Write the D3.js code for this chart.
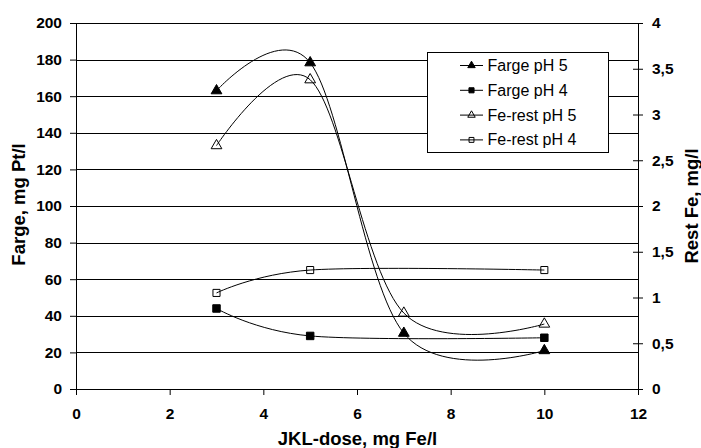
<!DOCTYPE html>
<html><head><meta charset="utf-8">
<script src="https://cdn.jsdelivr.net/npm/d3@7"></script>
<style>body{margin:0;background:#fff}svg{display:block}text{font-family:"Liberation Sans",Arial,sans-serif}</style>
</head><body><svg id="c" width="701" height="448"></svg>
<script>
const xTicks = [0,2,4,6,8,10,12];
const yLeftTicks = [0,20,40,60,80,100,120,140,160,180,200];
const yRightTicks = [0,0.5,1,1.5,2,2.5,3,3.5,4];
const fargePH5 = [[3,163],[5,178.3],[7,30.5],[10,21]];
const fargePH4 = [[3,44],[5,29],[10,28]];
const feRestPH5 = [[3,2.66],[5,3.38],[7,0.83],[10,0.71]];
const feRestPH4 = [[3,1.05],[5,1.3],[10,1.3]];
const seriesNames = ["Farge pH 5","Farge pH 4","Fe-rest pH 5","Fe-rest pH 4"];

const svg = d3.select("#c");
const L=76,R=638,T=23,B=389;
const x = d3.scaleLinear().domain([0,12]).range([L,R]);
const yL = d3.scaleLinear().domain([0,200]).range([B,T]);
const yR = d3.scaleLinear().domain([0,4]).range([B,T]);
const fmt = d => String(d).replace(".",",");

// gridlines
svg.append("g").selectAll("line").data(yLeftTicks.slice(1)).join("line")
  .attr("x1",L).attr("x2",R).attr("y1",d=>Math.round(yL(d))+0.5).attr("y2",d=>Math.round(yL(d))+0.5)
  .attr("stroke","#000").attr("stroke-width",1);

// axes
const gx = svg.append("g").attr("transform",`translate(0,${B})`)
  .call(d3.axisBottom(x).tickValues(xTicks).tickSize(6).tickPadding(13).tickFormat(d=>d));
const gl = svg.append("g").attr("transform",`translate(${L},0)`)
  .call(d3.axisLeft(yL).tickValues(yLeftTicks).tickSize(6).tickPadding(8).tickFormat(d=>d));
const gr = svg.append("g").attr("transform",`translate(${R},0)`)
  .call(d3.axisRight(yR).tickValues(yRightTicks).tickSize(5).tickPadding(9).tickFormat(fmt));
gr.selectAll(".tick line").attr("x1",-5);
[gx,gl,gr].forEach(g=>{
  g.select(".domain").attr("stroke","#000");
  g.selectAll(".tick line").attr("stroke","#000");
  g.selectAll("text").attr("font-size",15.5).attr("font-weight","bold").attr("fill","#000")
   .style("font-family",'"Liberation Sans",Arial,sans-serif');
});
gx.select(".domain").attr("d",`M${L},0.5H${R}`);
gl.select(".domain").attr("d",`M0.5,${T}V${B}`);
gr.select(".domain").attr("d",`M0.5,${T}V${B}`);

// titles
svg.append("text").attr("x",357.5).attr("y",445).attr("text-anchor","middle")
  .attr("font-size",18.5).attr("font-weight","bold").text("JKL-dose, mg Fe/l");
svg.append("text").attr("transform",`translate(25,204.5) rotate(-90)`).attr("text-anchor","middle")
  .attr("font-size",18.5).attr("font-weight","bold").text("Farge, mg Pt/l");
svg.append("text").attr("transform",`translate(698,206) rotate(-90)`).attr("text-anchor","middle")
  .attr("font-size",18.5).attr("font-weight","bold").text("Rest Fe, mg/l");

const curve = d3.curveCatmullRom.alpha(0);
const tri = (s)=>d3.symbol().type(d3.symbolTriangle).size(s);
const sq = (s)=>d3.symbol().type(d3.symbolSquare).size(s);
const series = [
  {data:fargePH5, y:yL, sym:tri(50), fill:"#000"},
  {data:fargePH4, y:yL, sym:sq(56), fill:"#000"},
  {data:feRestPH5, y:yR, sym:tri(50), fill:"none"},
  {data:feRestPH4, y:yR, sym:sq(50), fill:"none"}
];
series.forEach(s=>{
  svg.append("path").datum(s.data)
    .attr("d",d3.line().x(d=>x(d[0])).y(d=>s.y(d[1])).curve(curve))
    .attr("fill","none").attr("stroke","#000").attr("stroke-width",1);
});
series.forEach(s=>{
  svg.append("g").selectAll("path").data(s.data).join("path")
    .attr("transform",d=>`translate(${x(d[0])},${s.y(d[1])})`)
    .attr("d",s.sym()).attr("fill",s.fill).attr("stroke","#000").attr("stroke-width",1);
});

// legend
const lg = svg.append("g");
lg.append("rect").attr("x",427.5).attr("y",52.5).attr("width",181).attr("height",100)
  .attr("fill","#fff").attr("stroke","#000");
const legSyms=[tri(24),sq(26),tri(24),sq(24)];
seriesNames.forEach((n,i)=>{
  const yy = 65.5+i*24.8;
  lg.append("line").attr("x1",460).attr("x2",483).attr("y1",yy).attr("y2",yy).attr("stroke","#000");
  lg.append("path").attr("transform",`translate(471.5,${yy})`).attr("d",legSyms[i]())
    .attr("fill",series[i].fill).attr("stroke","#000");
  lg.append("text").attr("x",487.5).attr("y",yy+5.5).attr("font-size",16).text(n);
});
</script></body></html>
